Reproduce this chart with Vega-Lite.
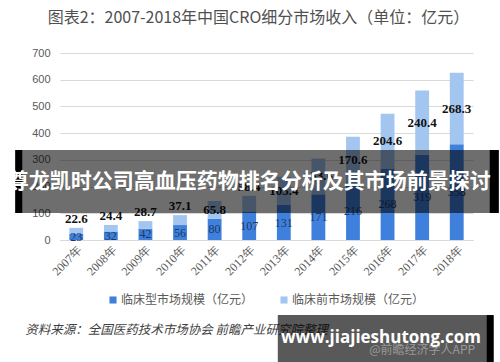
{
  "$schema": "https://vega.github.io/schema/vega-lite/v6.json",
  "width": 413,
  "height": 187,
  "autosize": {"type": "none"},
  "padding": {"left": 60, "top": 53, "right": 27, "bottom": 122},
  "background": "white",
  "config": {"view": {"stroke": null}},
  "resolve": {"scale": {"y": "independent"}, "axis": {"y": "independent"}},
  "title": {
    "text": "图表2：2007-2018年中国CRO细分市场收入（单位：亿元）",
    "font": "Noto Sans CJK SC",
    "fontSize": 16,
    "fontWeight": "normal",
    "color": "#505050",
    "anchor": "middle",
    "dx": -8,
    "offset": 21
  },
  "data": {
    "values": [
      {"year": "2007年", "clinical": 23, "preclinical": 22.6},
      {"year": "2008年", "clinical": 32, "preclinical": 24.4},
      {"year": "2009年", "clinical": 42, "preclinical": 28.7},
      {"year": "2010年", "clinical": 56, "preclinical": 37.1},
      {"year": "2011年", "clinical": 80, "preclinical": 65.8},
      {"year": "2012年", "clinical": 107, "preclinical": 58.4},
      {"year": "2013年", "clinical": 131, "preclinical": 105.4},
      {"year": "2014年", "clinical": 171, "preclinical": 133.6},
      {"year": "2015年", "clinical": 216, "preclinical": 170.6},
      {"year": "2016年", "clinical": 268, "preclinical": 204.6},
      {"year": "2017年", "clinical": 319, "preclinical": 240.4},
      {"year": "2018年", "clinical": 358, "preclinical": 268.3}
    ]
  },
  "layer": [
    {
      "transform": [{"fold": ["clinical", "preclinical"], "as": ["series", "value"]}],
      "mark": {"type": "bar"},
      "encoding": {
        "x": {
          "field": "year", "type": "nominal", "sort": null,
          "scale": {"paddingInner": 0.6, "paddingOuter": 0.27},
          "axis": {
            "title": null, "labelAngle": -45, "labelFont": "Liberation Serif",
            "labelFontSize": 12, "labelColor": "#595959", "ticks": false,
            "domain": true, "domainColor": "#d9d9d9", "labelPadding": 4, "grid": false
          }
        },
        "y": {
          "field": "value", "type": "quantitative", "stack": "zero",
          "scale": {"domain": [0, 700], "nice": false},
          "axis": {
            "title": null, "values": [0, 100, 200, 300, 400, 500, 600, 700],
            "labelOverlap": false, "labelFont": "Liberation Sans", "labelFontSize": 11,
            "labelColor": "#595959", "ticks": false, "domain": false,
            "gridColor": "#d9d9d9", "labelPadding": 10
          }
        },
        "color": {
          "field": "series", "type": "nominal",
          "scale": {"domain": ["clinical", "preclinical"], "range": ["#3f80dc", "#a3c6f0"]},
          "legend": {
            "orient": "none", "legendX": 47, "legendY": 241, "direction": "horizontal",
            "title": null, "symbolType": "square", "symbolSize": 50, "symbolStrokeWidth": 0,
            "labelFont": "Noto Sans CJK SC", "labelFontSize": 12, "labelColor": "#595959",
            "labelOffset": 2, "columnPadding": 24,
            "labelExpr": "datum.value == 'clinical' ? '临床型市场规模（亿元）' : '临床前市场规模（亿元）'"
          }
        },
        "order": {"field": "series", "sort": "ascending"}
      }
    },
    {
      "transform": [{"calculate": "datum.clinical / 2", "as": "cmid"}],
      "mark": {"type": "text", "font": "Liberation Serif", "fontSize": 12, "color": "#1f3864", "baseline": "middle"},
      "encoding": {
        "x": {"field": "year", "type": "nominal", "sort": null},
        "y": {"field": "cmid", "type": "quantitative", "scale": {"domain": [0, 700], "nice": false}, "axis": null},
        "text": {"field": "clinical", "type": "quantitative"}
      }
    },
    {
      "transform": [
        {"filter": "datum.preclinical >= 60"},
        {"calculate": "datum.clinical + datum.preclinical / 2", "as": "pmid"}
      ],
      "mark": {"type": "text", "font": "Liberation Serif", "fontSize": 13, "fontWeight": "bold", "color": "#111111", "baseline": "middle"},
      "encoding": {
        "x": {"field": "year", "type": "nominal", "sort": null},
        "y": {"field": "pmid", "type": "quantitative", "scale": {"domain": [0, 700], "nice": false}, "axis": null},
        "text": {"field": "preclinical", "type": "quantitative", "format": ".1f"}
      }
    },
    {
      "transform": [
        {"filter": "datum.preclinical < 60"},
        {"calculate": "datum.clinical + datum.preclinical", "as": "total"}
      ],
      "mark": {"type": "text", "font": "Liberation Serif", "fontSize": 13, "fontWeight": "bold", "color": "#111111", "baseline": "bottom", "dy": -2},
      "encoding": {
        "x": {"field": "year", "type": "nominal", "sort": null},
        "y": {"field": "total", "type": "quantitative", "scale": {"domain": [0, 700], "nice": false}, "axis": null},
        "text": {"field": "preclinical", "type": "quantitative", "format": ".1f"}
      }
    },
    {
      "data": {"values": [{}]},
      "mark": {"type": "rect", "color": "#000000", "opacity": 0.57, "xOffset": -61, "x2Offset": 42},
      "encoding": {"x": {"datum": "2007年"}, "x2": {"datum": "2018年"}, "y": {"datum": 337, "scale": {"domain": [0, 700], "nice": false}, "axis": null}, "y2": {"datum": 101}}
    },
    {
      "data": {"values": [{}]},
      "mark": {"type": "rect", "color": "#000000", "opacity": 1, "xOffset": -61, "x2Offset": -54},
      "encoding": {"x": {"datum": "2007年"}, "x2": {"datum": "2007年"}, "y": {"datum": 337, "scale": {"domain": [0, 700], "nice": false}, "axis": null}, "y2": {"datum": 101}}
    },
    {
      "data": {"values": [{}]},
      "mark": {"type": "rect", "color": "#000000", "opacity": 1, "xOffset": 33, "x2Offset": 42},
      "encoding": {"x": {"datum": "2018年"}, "x2": {"datum": "2018年"}, "y": {"datum": 337, "scale": {"domain": [0, 700], "nice": false}, "axis": null}, "y2": {"datum": 101}}
    },
    {
      "data": {"values": [{"t": "尊龙凯时公司高血压药物排名分析及其市场前景探讨"}]},
      "mark": {"type": "text", "font": "Noto Sans CJK SC", "fontSize": 21, "fontWeight": "bold", "color": "#ffffff", "baseline": "middle", "align": "center"},
      "encoding": {"x": {"datum": "2012年"}, "y": {"datum": 217, "scale": {"domain": [0, 700], "nice": false}, "axis": null}, "text": {"field": "t"}}
    },
    {
      "data": {"values": [{"t": "资料来源：全国医药技术市场协会 前瞻产业研究院整理"}]},
      "mark": {"type": "text", "font": "Noto Sans CJK SC", "fontSize": 12.5, "fontStyle": "italic", "color": "#404040", "baseline": "middle", "align": "left", "dx": -51},
      "encoding": {"x": {"datum": "2007年"}, "y": {"datum": -337, "scale": {"domain": [0, 700], "nice": false}, "axis": null}, "text": {"field": "t"}}
    },
    {
      "data": {"values": [{}]},
      "mark": {"type": "rect", "color": "#000000", "opacity": 0.65, "xOffset": -6, "x2Offset": 35},
      "encoding": {"x": {"datum": "2013年"}, "x2": {"datum": "2018年"}, "y": {"datum": -281, "scale": {"domain": [0, 700], "nice": false}, "axis": null}, "y2": {"datum": -465}}
    },
    {
      "data": {"values": [{}]},
      "mark": {"type": "rect", "color": "#000000", "opacity": 1, "xOffset": 30, "x2Offset": 37},
      "encoding": {"x": {"datum": "2018年"}, "x2": {"datum": "2018年"}, "y": {"datum": -281, "scale": {"domain": [0, 700], "nice": false}, "axis": null}, "y2": {"datum": -465}}
    },
    {
      "data": {"values": [{"t": "@前瞻经济学人APP"}]},
      "mark": {"type": "text", "font": "Noto Sans CJK SC", "fontSize": 12, "color": "#9a9a9a", "baseline": "middle", "align": "center"},
      "encoding": {"x": {"datum": "2017年"}, "y": {"datum": -412, "scale": {"domain": [0, 700], "nice": false}, "axis": null}, "text": {"field": "t"}}
    },
    {
      "data": {"values": [{"t": "www.jiajieshutong.com"}]},
      "mark": {"type": "text", "font": "Open Sans", "fontSize": 17, "fontWeight": "bold", "color": "#ffffff", "baseline": "middle", "align": "center", "dx": 28},
      "encoding": {"x": {"datum": "2015年"}, "y": {"datum": -367, "scale": {"domain": [0, 700], "nice": false}, "axis": null}, "text": {"field": "t"}}
    }
  ]
}
